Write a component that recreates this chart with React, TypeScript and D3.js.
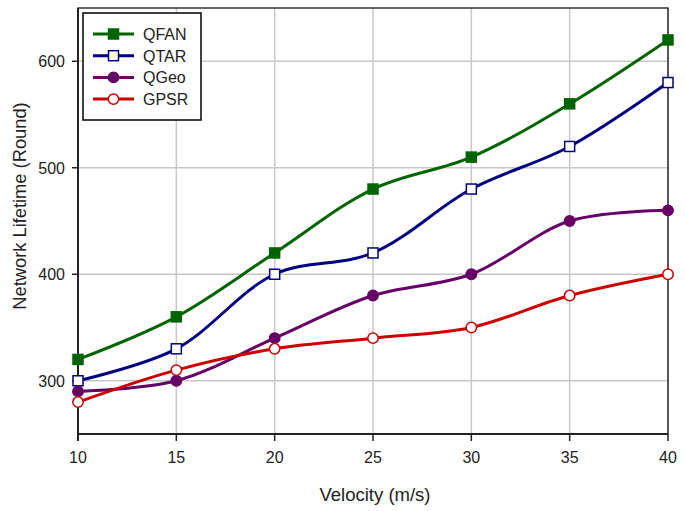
import React from "react";
import * as d3 from "d3";

const velocities = [10, 15, 20, 25, 30, 35, 40];
const qfan = [320, 360, 420, 480, 510, 560, 620];
const qtar = [300, 330, 400, 420, 480, 520, 580];
const qgeo = [290, 300, 340, 380, 400, 450, 460];
const gpsr = [280, 310, 330, 340, 350, 380, 400];
const xTicks = [10, 15, 20, 25, 30, 35, 40];
const yTicks = [300, 400, 500, 600];

const seriesList = [
  { name: "QFAN", values: qfan, color: "#006400", marker: "square", filled: true },
  { name: "QTAR", values: qtar, color: "#000080", marker: "square", filled: false },
  { name: "QGeo", values: qgeo, color: "#660066", marker: "circle", filled: true },
  { name: "GPSR", values: gpsr, color: "#cc0000", marker: "circle", filled: false },
];

const W = 685;
const H = 511;
const L = 78, R = 668, T = 8, B = 434;

export default function App() {
  const x = d3.scaleLinear().domain([10, 40]).range([L, R]);
  const y = d3.scaleLinear().domain([250, 650]).range([B, T]);
  const font = "'Liberation Sans', Arial, sans-serif";

  const marker = (s: any, cx: number, cy: number, key: string) => {
    if (s.marker === "square") {
      return (
        <rect key={key} x={cx - 5} y={cy - 5} width={10} height={10}
          fill={s.filled ? s.color : "#fff"} stroke={s.color} strokeWidth={1.5} />
      );
    }
    return (
      <circle key={key} cx={cx} cy={cy} r={5.2}
        fill={s.filled ? s.color : "#fff"} stroke={s.color} strokeWidth={1.5} />
    );
  };

  const line = d3.line<number>()
    .x((_, i) => x(velocities[i]))
    .y((d) => y(d))
    .curve(d3.curveCatmullRom.alpha(0.5));

  return (
    <svg width={W} height={H} style={{ position: "absolute", left: 0, top: 0, background: "#fff" }}
      fontFamily={font}>
      <rect x={0} y={0} width={W} height={H} fill="#fff" />
      {xTicks.map((t) => (
        <line key={"gx" + t} x1={x(t)} x2={x(t)} y1={T} y2={B} stroke="#c8c8c8" strokeWidth={1.5} />
      ))}
      {yTicks.map((t) => (
        <line key={"gy" + t} x1={L} x2={R} y1={y(t)} y2={y(t)} stroke="#c8c8c8" strokeWidth={1.5} />
      ))}
      <rect x={L} y={T} width={R - L} height={B - T} fill="none" stroke="#000" strokeWidth={1.2} />
      <line x1={L} x2={L} y1={T} y2={B + 7} stroke="#222" strokeWidth={2} />
      <line x1={L - 1} x2={R} y1={B} y2={B} stroke="#222" strokeWidth={2} />
      {xTicks.map((t) => (
        <g key={"tx" + t}>
          <line x1={x(t)} x2={x(t)} y1={B} y2={B + 7} stroke="#222" strokeWidth={1.5} />
          <text x={x(t)} y={463} textAnchor="middle" fontSize={16} fill="#222">{t}</text>
        </g>
      ))}
      {yTicks.map((t) => (
        <g key={"ty" + t}>
          <line x1={L - 6} x2={L} y1={y(t)} y2={y(t)} stroke="#222" strokeWidth={1.5} />
          <text x={65} y={y(t) + 6} textAnchor="end" fontSize={16} fill="#222">{t}</text>
        </g>
      ))}
      <text x={375} y={501} textAnchor="middle" fontSize={18.5} fill="#222">Velocity (m/s)</text>
      <text transform={`translate(26,206) rotate(-90)`} textAnchor="middle" fontSize={18.3} fill="#222">
        Network Lifetime (Round)
      </text>
      {seriesList.map((s) => (
        <path key={"l" + s.name} d={line(s.values) || ""} fill="none" stroke={s.color} strokeWidth={3} />
      ))}
      {seriesList.map((s) =>
        s.values.map((v, i) => marker(s, x(velocities[i]), y(v), s.name + i))
      )}
      <rect x={83} y={13} width={118} height={107} fill="#fff" stroke="#000" strokeWidth={1.5} />
      {seriesList.map((s, i) => {
        const ly = 34 + i * 21.7;
        return (
          <g key={"lg" + s.name}>
            <line x1={93} x2={134} y1={ly} y2={ly} stroke={s.color} strokeWidth={3} />
            {marker(s, 113.5, ly, "lm" + s.name)}
            <text x={143} y={ly + 6} fontSize={16} fill="#222">{s.name}</text>
          </g>
        );
      })}
    </svg>
  );
}
